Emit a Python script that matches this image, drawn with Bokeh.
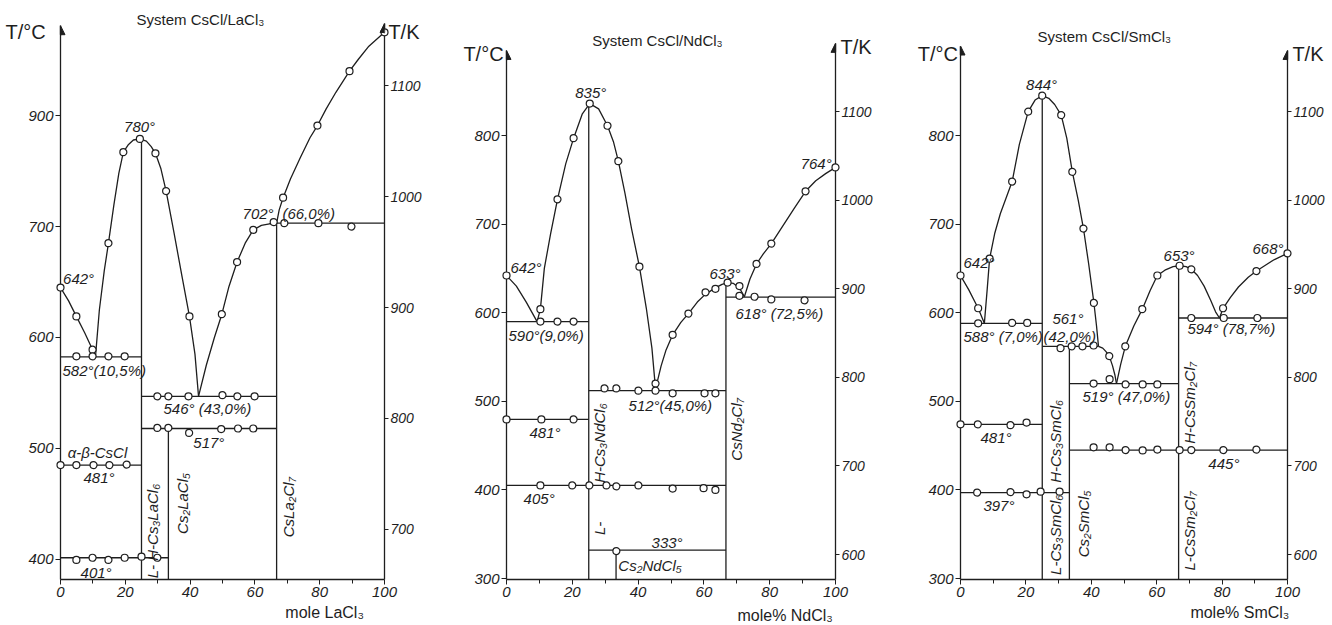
import math
from bokeh.plotting import figure
from bokeh.models import Range1d, LinearAxis, FixedTicker, Label, Arrow, NormalHead
from bokeh.core.properties import value
from bokeh.layouts import row
from bokeh.embed import file_html
from bokeh.resources import INLINE

# ================= DATA =================
# ---- System CsCl/LaCl3 ----
la_pts_x = [0, 4.9, 9.9, 14.8, 19.4, 24.5, 29.3, 32.6, 39.8, 49.8, 54.5, 59.5, 65.8, 68.7, 79.3, 89.2, 100,
            4.9, 9.9, 14.8, 19.8,
            29.9, 33.3, 39.5, 50, 54.6, 59.9,
            29.9, 33.3, 39.7, 49.6, 54.8, 59.5,
            69.1, 79.6, 89.8,
            0, 4.9, 10.2, 15.1, 20.4,
            4.9, 9.9, 14.8, 19.8, 25, 29.9]
la_pts_T = [645, 619, 589, 685, 767, 779, 766, 732, 619, 621, 668, 697, 704, 726, 791, 840, 875,
            583, 583, 583, 583,
            547, 547, 547, 548, 547, 547,
            518.5, 518.5, 514, 517.5, 518, 518,
            703, 703, 700,
            485, 485, 485, 485, 485.5,
            399.5, 401.5, 399.5, 401.5, 402.5, 401.5]
la_h_T = [582.5, 547, 518, 703, 485, 401.5]
la_h_x0 = [0, 25, 25, 66.7, 0, 0]
la_h_x1 = [25, 66.7, 66.7, 100, 25, 33.3]
la_v_x = [25, 33.3, 66.7]
la_v_T = [779, 518, 703]
la_curves = [
    ([0, 2.5, 4.9, 7.5, 9.9, 10.8], [645, 633, 619, 604, 589, 583]),
    ([10.8, 12, 13.5, 14.8, 16.5, 18, 19.4, 21, 22.5, 24.5, 26.5, 28, 29.3, 31, 32.6, 35, 37.5, 39.8, 41.5, 42.6],
     [583, 625, 660, 685, 720, 748, 767, 774, 778, 779, 777, 772, 766, 752, 732, 695, 655, 619, 585, 547]),
    ([42.6, 45, 47.5, 49.8, 52, 54.5, 57, 59.5, 62, 64.5, 66.7],
     [547, 575, 600, 621, 646, 668, 685, 697, 701, 702.5, 703]),
    ([66.7, 67.5, 68.7, 71, 74, 77, 79.3, 82, 85, 89.2, 92, 95, 100],
     [703, 715, 726, 743, 762, 780, 791, 806, 821, 840, 851, 862, 875]),
]
la_Cticks = [400, 500, 600, 700, 800]
la_Clabels = {800: "900"}
la_Kticks = [700, 800, 900, 1000, 1100]

# ---- System CsCl/NdCl3 ----
nd_pts_x = [0, 10.3, 15.5, 20.4, 25.3, 30.7, 34, 40.4, 45.3, 50.5, 55.3, 60.5, 63.5, 67.2, 70.8, 76, 80.5, 90.9, 100,
            10.3, 15.5, 20.4,
            70.8, 75.4, 80.5, 90.6,
            29.8, 33.4, 40.1, 45.3, 50.5, 60.2, 63.5,
            0, 10.6, 20.4,
            10.3, 20, 25.2, 30.4, 33.4, 40.1, 50.5, 59.9, 63.5,
            33.4]
nd_pts_T = [642, 604, 728, 797, 836, 811, 771, 652, 520, 575, 599, 623, 627, 634, 630, 655, 678, 737, 764,
            590, 590, 590,
            619, 618, 615, 614,
            514.5, 514.5, 512, 512, 509, 509, 509,
            479.5, 479.5, 479.5,
            405, 405, 405, 405, 404, 405, 401.5, 402, 400,
            331]
nd_h_T = [590, 617.5, 512, 479.5, 405, 332]
nd_h_x0 = [0, 66.7, 25, 0, 0, 25]
nd_h_x1 = [25, 100, 66.7, 25, 66.7, 66.7]
nd_v_x = [25, 33.3, 66.7]
nd_v_T = [836, 332, 634]
nd_curves = [
    ([0, 3, 6, 9.3], [642, 630, 612, 590]),
    ([9.3, 10.3, 11.5, 13.4, 15.5, 18, 20.4, 23, 25.3, 28, 30.7, 32.5, 34, 36, 38, 40.4, 42.5, 44.2, 45.3],
     [590, 604, 650, 689, 728, 768, 797, 824, 836, 830, 811, 793, 771, 735, 695, 652, 605, 560, 514]),
    ([45.3, 47, 48.5, 50.5, 53, 55.3, 58, 60.5, 63.5, 65.5, 67.2, 69, 70.8, 72.3],
     [514, 540, 558, 575, 589, 599, 612, 621, 628, 632, 634, 633, 628, 618]),
    ([72.3, 74, 76, 78, 80.5, 84, 87.5, 90.9, 94, 97, 100],
     [618, 638, 655, 666, 678, 698, 718, 737, 749, 757, 764]),
]
nd_Cticks = [300, 400, 500, 600, 700, 800]
nd_Kticks = [600, 700, 800, 900, 1000, 1100]

# ---- System CsCl/SmCl3 ----
sm_pts_x = [0, 5.4, 8.9, 15.8, 20.7, 25, 30.8, 34.2, 37.6, 40.8, 45.5, 50.4, 55.6, 60.2, 67, 70.6, 80.3, 90.5, 100,
            5.4, 15.8, 20.4,
            30.6, 34, 37.3, 40.7,
            40.7, 45.6, 50.5, 55.7, 60.2,
            70.6, 80.5, 90.8,
            0, 5.3, 15.3, 20.2,
            5.1, 15.3, 20.2, 24.5, 30.3,
            40.7, 45.6, 50.5, 55.7, 60.2, 67, 70.6, 80.4, 90.5]
sm_pts_T = [642, 605, 661, 748, 827, 845, 823, 759, 695, 611, 551, 562, 604, 642, 653, 649, 605, 647, 667,
            588, 588.5, 588.5,
            560, 562, 562, 563,
            520, 525, 519, 519, 519,
            594, 594, 594,
            474, 474, 473, 476,
            397, 397.5, 395, 398, 398,
            448, 448, 445, 444.5, 445.5, 445, 445, 445, 445.5]
sm_h_T = [588, 562, 520, 594, 474, 397, 445]
sm_h_x0 = [0, 25, 33.3, 66.7, 0, 0, 33.3]
sm_h_x1 = [25, 42.2, 66.7, 100, 25, 33.3, 100]
sm_v_x = [25, 33.3, 66.7]
sm_v_T = [845, 562, 653]
sm_curves = [
    ([0, 2.5, 5.4, 7.3], [642, 626, 605, 588]),
    ([7.3, 8.2, 8.9, 10.5, 12.2, 14, 15.8, 18, 20.7, 22.8, 25, 27, 28.8, 30.8, 32.5, 34.2, 36, 37.6, 39.2, 40.8, 41.6, 42.2],
     [588, 628, 661, 690, 712, 730, 748, 790, 827, 840, 845, 842, 835, 823, 797, 759, 727, 695, 655, 611, 585, 562]),
    ([42.2, 43.5, 44.5, 45.5, 46.5, 47.2, 47.7], [562, 560, 556, 551, 540, 530, 520]),
    ([47.7, 49, 50.4, 53, 55.6, 58, 60.2, 62.5, 65, 67, 69, 70.6, 72.5, 74.5, 76.5, 78, 79.2],
     [520, 542, 562, 585, 604, 625, 642, 648, 652, 653, 652, 649, 642, 630, 614, 601, 594]),
    ([79.2, 80.3, 82.5, 85, 88, 90.5, 93, 96, 100], [594, 605, 617, 629, 640, 647, 653, 660, 667]),
]
sm_Cticks = [300, 400, 500, 600, 700, 800]
sm_Kticks = [600, 700, 800, 900, 1000, 1100]

x_major = [0, 20, 40, 60, 80, 100]
x_minor = [10, 30, 50, 70, 90]

# ================= STYLE / LAYOUT =================
INK = "#1e1e1e"
LFONT = "Liberation Sans"
ROT = math.pi / 2
H = 625
FRAME_TOP = 23
FRAME_BOT = 579


def style_axis(ax, size="15px", tick=5, standoff=2):
    ax.axis_line_color = INK
    ax.axis_line_width = 1.3
    ax.major_tick_line_color = INK
    ax.major_tick_in = 0
    ax.major_tick_out = tick
    ax.minor_tick_line_color = INK
    ax.minor_tick_in = 0
    ax.minor_tick_out = 4
    ax.major_label_text_font = LFONT
    ax.major_label_text_font_style = "italic"
    ax.major_label_text_font_size = size
    ax.major_label_text_color = INK
    ax.major_label_standoff = standoff


def panel(fig_left, fig_width, x0px, x100px, ybot, Cmin, cpu, tipL, tipR,
          pts_x, pts_T, h_T, h_x0, h_x1, v_x, v_T, curves,
          Cticks, Kticks, labels, rlabels, outer, Clabels=None):
    ppu = (x100px - x0px) / 100.0
    bl = x0px - fig_left
    br = fig_width - bl - (x100px - x0px)
    rbot = Cmin - (FRAME_BOT - ybot) / cpu
    rtop = Cmin + (ybot - FRAME_TOP) / cpu
    p = figure(width=fig_width, height=H, output_backend="svg", toolbar_location=None,
               x_range=Range1d(0, 100), y_range=Range1d(rbot, rtop),
               min_border_left=bl, min_border_right=br,
               min_border_top=FRAME_TOP, min_border_bottom=H - FRAME_BOT)
    p.outline_line_color = None
    p.grid.visible = False
    p.background_fill_color = "white"
    p.border_fill_color = "white"

    def sx(x):
        return x * ppu

    def sy(T):
        return (T - rbot) * cpu

    # axes
    xa = p.xaxis[0]
    xa.ticker = FixedTicker(ticks=x_major, minor_ticks=x_minor)
    style_axis(xa)
    ya = p.yaxis[0]
    ya.ticker = FixedTicker(ticks=Cticks, minor_ticks=[])
    ya.bounds = (rbot, tipL)
    if Clabels:
        ya.major_label_overrides = Clabels
    style_axis(ya)
    p.extra_y_ranges = {"K": Range1d(rbot + 273, rtop + 273)}
    ka = LinearAxis(y_range_name="K", ticker=FixedTicker(ticks=Kticks, minor_ticks=[]))
    ka.bounds = (rbot + 273, tipR + 273)
    style_axis(ka, size="14px", tick=4, standoff=2)
    p.add_layout(ka, "right")

    for xx, tip in ((0, tipL), (100, tipR)):
        p.add_layout(Arrow(end=NormalHead(size=9, fill_color=INK, line_color=INK, line_width=1),
                           start_units="screen", end_units="screen",
                           x_start=sx(xx), y_start=sy(tip) - 10, x_end=sx(xx), y_end=sy(tip),
                           line_color=INK, line_width=1.3))

    # phase lines
    p.segment(x0=h_x0, y0=h_T, x1=h_x1, y1=h_T, line_color=INK, line_width=1.3)
    p.segment(x0=v_x, y0=[rbot] * len(v_x), x1=v_x, y1=v_T, line_color=INK, line_width=1.3)
    for cx, cT in curves:
        p.line(cx, cT, line_color=INK, line_width=1.3)
    sc = p.scatter(pts_x, pts_T, marker="circle", size=7, fill_color="white",
                   line_color=INK, line_width=1.2)
    sc.level = "annotation"

    for t, x, y, al in labels:
        p.add_layout(Label(x=x, y=y, text=t, text_align=al, text_baseline="middle",
                           text_font=LFONT, text_font_style="italic",
                           text_font_size="15px", text_color=INK))
    for t, x, y in rlabels:
        p.add_layout(Label(x=x, y=y, text=t, angle=ROT, text_align="left", text_baseline="middle",
                           text_font=LFONT, text_font_style="italic",
                           text_font_size="15px", text_color=INK))
    # texts outside the frame: text glyphs drawn at the annotation level (not clipped)
    for t, x, y, al, sz in outer:
        r = p.text(x=[x], y=[y], text=[t], text_align=al, text_baseline="middle",
                   text_font=value(LFONT), text_font_size=value(sz), text_color=INK)
        r.level = "annotation"
    return p


p1 = panel(0, 440, 60, 384, 580, 381, 1.1096, 881, 883,
           la_pts_x, la_pts_T, la_h_T, la_h_x0, la_h_x1, la_v_x, la_v_T, la_curves,
           la_Cticks, la_Kticks,
           [("780°", 24.4, 790, "center"), ("642°", 0.8, 653, "left"),
            ("582°(10,5%)", 0.6, 570, "left"), ("546° (43,0%)", 31.8, 536, "left"),
            ("702°", 56.2, 712, "left"), ("(66,0%)", 68.5, 712, "left"),
            ("517°", 41, 505, "left"), ("α-β-CsCl", 2.2, 496, "left"),
            ("481°", 7.1, 474, "left"), ("401°", 6.2, 388, "left")],
           [("L-  H-Cs₃LaCl₆", 28.4, 383), ("Cs₂LaCl₅", 37.7, 423), ("CsLa₂Cl₇", 70.4, 420)],
           [("System CsCl/LaCl₃", 43.2, 887, "center", "15px"), ("T/°C", -17, 875, "left", "20px"),
            ("T/K", 101.2, 875, "left", "20px"), ("mole LaCl₃", 69.4, 352, "left", "16px")],
           Clabels=la_Clabels)

p2 = panel(440, 460, 506, 835, 578, 300, 0.886, 896, 904,
           nd_pts_x, nd_pts_T, nd_h_T, nd_h_x0, nd_h_x1, nd_v_x, nd_v_T, nd_curves,
           nd_Cticks, nd_Kticks,
           [("835°", 25.6, 849, "center"), ("764°", 89.4, 768, "left"), ("642°", 1.2, 651, "left"),
            ("590°(9,0%)", 0.6, 574, "left"), ("633°", 61.7, 644, "left"),
            ("618° (72,5%)", 69.6, 599, "left"), ("512°(45,0%)", 37.1, 495, "left"),
            ("481°", 7, 465, "left"), ("405°", 5.2, 390, "left"), ("333°", 44.1, 341, "left"),
            ("Cs₂NdCl₅", 34, 315, "left")],
           [("H-Cs₃NdCl₆", 28.3, 408), ("L-", 28.3, 349), ("CsNd₂Cl₇", 70, 433)],
           [("System CsCl/NdCl₃", 45.9, 907, "center", "15px"), ("T/°C", -13.1, 892, "left", "20px"),
            ("T/K", 101.5, 900, "left", "20px"), ("mole% NdCl₃", 70.2, 258, "left", "16px")])

p3 = panel(900, 432, 960, 1287, 578, 300, 0.886, 901, 896,
           sm_pts_x, sm_pts_T, sm_h_T, sm_h_x0, sm_h_x1, sm_v_x, sm_v_T, sm_curves,
           sm_Cticks, sm_Kticks,
           [("844°", 24.8, 857, "center"), ("642°", 0.9, 657, "left"),
            ("588° (7,0%)", 0.9, 573, "left"), ("561°", 28.1, 593, "left"),
            ("(42,0%)", 25.4, 573, "left"), ("653°", 62.1, 665, "left"),
            ("668°", 89.3, 673, "left"), ("594° (78,7%)", 69.4, 582, "left"),
            ("519° (47,0%)", 37.3, 505, "left"), ("481°", 6.1, 459, "left"),
            ("397°", 7, 382, "left"), ("445°", 75.8, 430, "left")],
           [("H-Cs₃SmCl₆", 29, 408), ("L-Cs₃SmCl₆", 29, 304), ("Cs₂SmCl₅", 37.6, 324),
            ("H-CsSm₂Cl₇", 70, 452), ("L-CsSm₂Cl₇", 70, 309)],
           [("System CsCl/SmCl₃", 44, 912, "center", "15px"), ("T/°C", -13.1, 892, "left", "20px"),
            ("T/K", 101.5, 892, "left", "20px"), ("mole% SmCl₃", 70.3, 262, "left", "16px")])

layout = row(p1, p2, p3)
open("out.html", "w").write(file_html(layout, INLINE))
